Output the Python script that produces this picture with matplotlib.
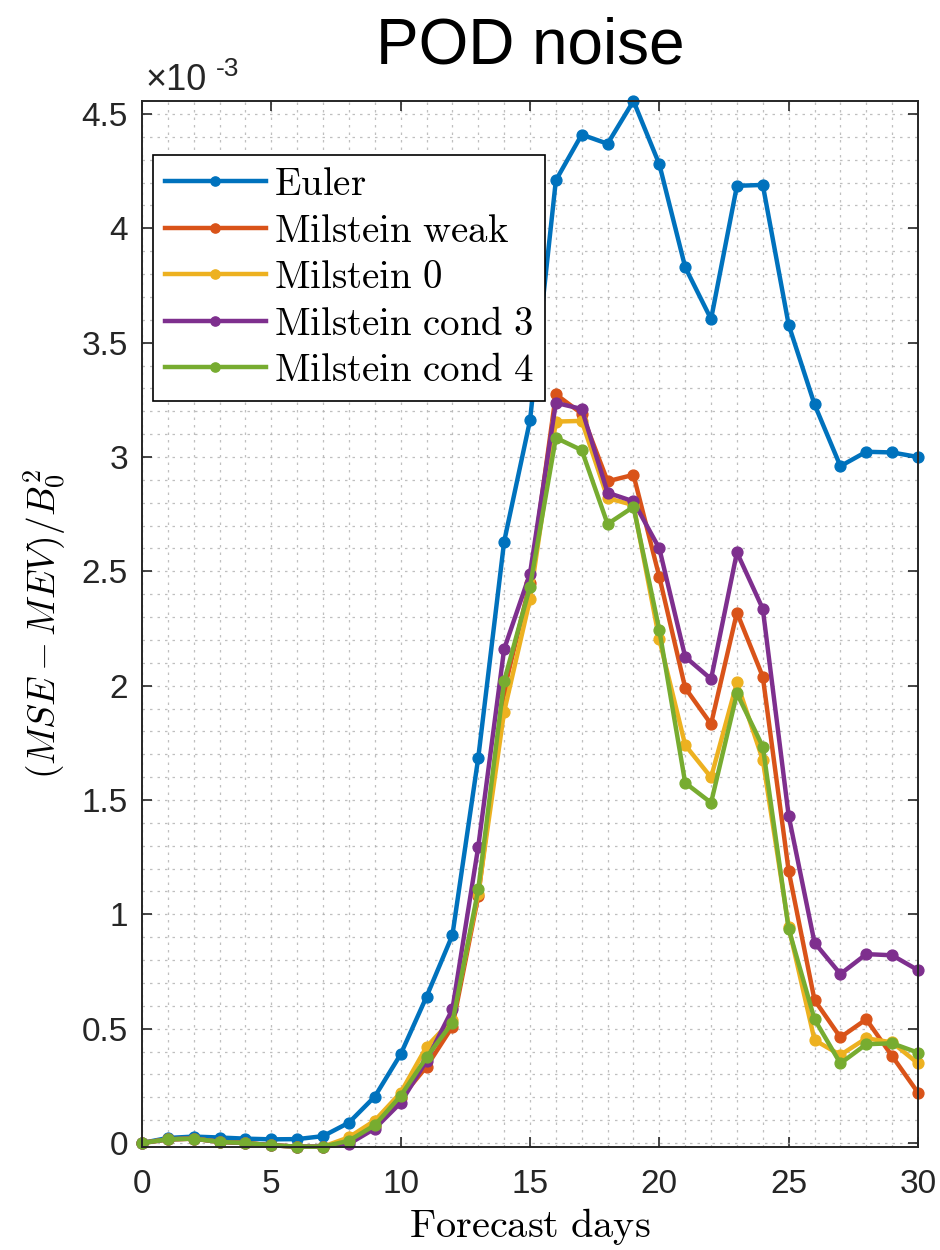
import matplotlib
matplotlib.use("Agg")
import matplotlib.pyplot as plt
from matplotlib.ticker import MultipleLocator
import numpy as np

plt.rcParams['font.family'] = ['Liberation Sans', 'DejaVu Sans']
plt.rcParams['mathtext.fontset'] = 'cm'

# ---- data (values in units of 1e-3) ----
days = list(range(0, 31))
euler = [0, 0.022, 0.028, 0.024, 0.019, 0.016, 0.017, 0.03, 0.089, 0.203, 0.388,
         0.64, 0.909, 1.685, 2.63, 3.16, 4.21, 4.41, 4.37, 4.557, 4.28,
         3.83, 3.603, 4.186, 4.19, 3.578, 3.23, 2.96, 3.023, 3.02, 3.0]
milstein_weak = [0, 0.016, 0.019, 0.005, 0.0, -0.01, -0.016, -0.016, 0.01, 0.075, 0.196,
                 0.334, 0.509, 1.08, 1.98, 2.45, 3.274, 3.19, 2.894, 2.922, 2.476,
                 1.99, 1.832, 2.32, 2.039, 1.19, 0.625, 0.462, 0.541, 0.38, 0.22]
milstein_0 = [0, 0.016, 0.019, 0.005, 0.0, -0.01, -0.016, -0.016, 0.025, 0.098, 0.22,
              0.421, 0.54, 1.09, 1.886, 2.378, 3.155, 3.158, 2.82, 2.79, 2.202,
              1.74, 1.599, 2.014, 1.675, 0.945, 0.45, 0.385, 0.458, 0.44, 0.348]
milstein_cond3 = [0, 0.016, 0.019, 0.005, 0.0, -0.01, -0.016, -0.016, -0.004, 0.063, 0.176,
                  0.36, 0.585, 1.296, 2.16, 2.49, 3.237, 3.21, 2.844, 2.806, 2.6,
                  2.126, 2.029, 2.583, 2.336, 1.431, 0.876, 0.739, 0.826, 0.821, 0.756]
milstein_cond4 = [0, 0.016, 0.019, 0.005, 0.0, -0.01, -0.016, -0.016, 0.01, 0.078, 0.206,
                  0.375, 0.526, 1.109, 2.02, 2.433, 3.084, 3.03, 2.707, 2.782, 2.243,
                  1.575, 1.488, 1.966, 1.733, 0.936, 0.541, 0.348, 0.432, 0.436, 0.395]

series = [
    (euler, r'$\mathrm{Euler}$', (0.0, 0.447, 0.741)),
    (milstein_weak, r'$\mathrm{Milstein\ weak}$', (0.85, 0.325, 0.098)),
    (milstein_0, r'$\mathrm{Milstein\ 0}$', (0.929, 0.694, 0.125)),
    (milstein_cond3, r'$\mathrm{Milstein\ cond\ 3}$', (0.494, 0.184, 0.556)),
    (milstein_cond4, r'$\mathrm{Milstein\ cond\ 4}$', (0.466, 0.674, 0.188)),
]

fig = plt.figure(figsize=(9.4, 12.5), dpi=100)
ax = fig.add_axes([142/940, 1 - 1147/1250, (918-142)/940, (1147-101)/1250])

for vals, lab, col in series:
    ax.plot(days, vals, '-o', color=col, lw=3.2, ms=7.8, label=lab, clip_on=False)

ax.set_xlim(0, 30)
ax.set_ylim(-0.0175, 4.557)
ax.xaxis.set_major_locator(MultipleLocator(5))
ax.xaxis.set_minor_locator(MultipleLocator(1))
ax.yaxis.set_minor_locator(MultipleLocator(0.1))
ax.set_yticks(np.arange(0, 4.51, 0.5))
ax.set_yticklabels(['0', '0.5', '1', '1.5', '2', '2.5', '3', '3.5', '4', '4.5'])

ax.grid(which='both', color='#b0b0b0', linestyle=(0, (2, 4)), linewidth=0.9, alpha=0.8)
ax.set_axisbelow(True)

dark = (0.15, 0.15, 0.15)
for s in ax.spines.values():
    s.set_color(dark)
    s.set_linewidth(1.4)
ax.tick_params(which='major', direction='in', length=7, width=1.2, top=True, right=True,
               labelsize=24, colors=dark, pad=10)
ax.tick_params(axis='x', pad=16)
ax.tick_params(which='minor', length=0)

ax.set_xlabel(r'$\mathrm{Forecast\ days}$', fontsize=29, labelpad=4, color='black')
ax.set_ylabel(r'$(MSE-MEV)/B_0^2$', fontsize=27, labelpad=10, color='black')

fig.text(530/940, 1 - 63/1250, 'POD noise', ha='center', va='baseline', fontsize=46, color='black')
fig.text(145/940, 1 - 90/1250, '\u00d710', ha='left', va='baseline', fontsize=26, color=dark)
fig.text(216/940, 1 - 76/1250, '-3', ha='left', va='baseline', fontsize=19, color=dark)

leg = ax.legend(loc='upper left', bbox_to_anchor=(0.0142, 0.948), fontsize=28,
                frameon=True, fancybox=False, edgecolor='black', framealpha=1,
                handlelength=2.6, borderaxespad=0, labelspacing=0.27, handletextpad=0.2,
                borderpad=0.3, markerscale=0.85)
leg.get_frame().set_linewidth(1.2)

fig.savefig('out.png', dpi=100)
